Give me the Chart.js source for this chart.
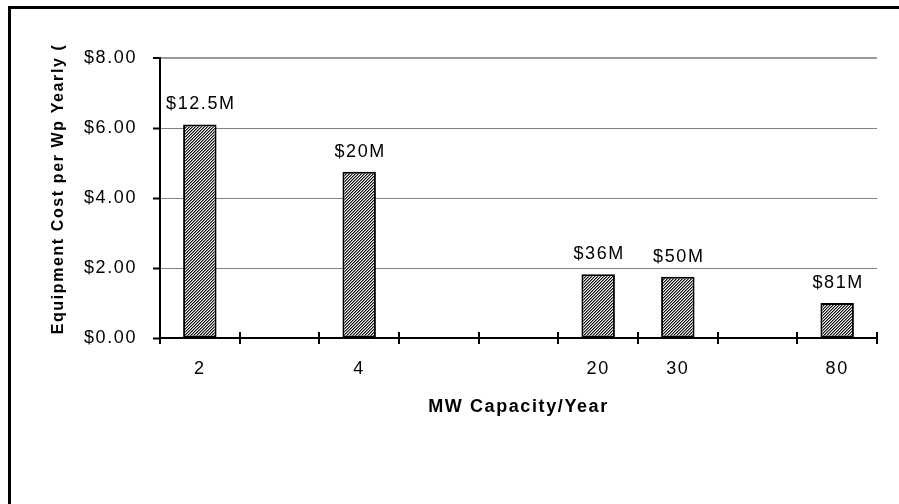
<!DOCTYPE html>
<html>
<head>
<meta charset="utf-8">
<script src="https://cdn.jsdelivr.net/npm/chart.js@4/dist/chart.umd.min.js"></script>
<style>
  html, body { margin: 0; padding: 0; background: #fff; overflow: hidden; }
  #wrap { position: relative; width: 899px; height: 504px; }
  #frame { position: absolute; left: 8px; top: 6px; width: 1000px; height: 600px;
           border-left: 3px solid #000; border-top: 3px solid #000; pointer-events: none; }
  canvas { position: absolute; left: 0; top: 0; }
</style>
</head>
<body>
<div id="wrap">
  <canvas id="cost-chart" width="899" height="504"></canvas>
  <div id="frame"></div>
</div>
<script>
// capacity categories (empty slots keep the spacing of the original)
var capacities = ['2', '', '4', '', '', '20', '30', '', '80'];
// equipment cost per Wp of yearly capacity
var costPerWp = [6.1, null, 4.75, null, null, 1.82, 1.75, null, 1.0];
// total equipment cost written over each bar
var costLabels = ['$12.5M', null, '$20M', null, null, '$36M', '$50M', null, '$81M'];
var yTicks = [0, 2, 4, 6, 8];

var FONT = '"Liberation Sans", Arial, sans-serif';

// fine hatched fill like the old spreadsheet pattern
function makeHatch() {
  var c = document.createElement('canvas');
  c.width = 3; c.height = 3;
  var g = c.getContext('2d');
  var img = g.createImageData(3, 3);
  var shades = [15, 130, 245];
  for (var y = 0; y < 3; y++) {
    for (var x = 0; x < 3; x++) {
      var i = (y * 3 + x) * 4;
      var v = shades[(x + y) % 3];
      img.data[i] = v; img.data[i + 1] = v; img.data[i + 2] = v; img.data[i + 3] = 255;
    }
  }
  g.putImageData(img, 0, 0);
  return document.getElementById('cost-chart').getContext('2d').createPattern(c, 'repeat');
}

var spacing = {
  id: 'spacing',
  beforeDraw: function(chart) {
    chart.ctx.letterSpacing = '1.6px';
  }
};

// labels over bars + the inner half of the x tick marks
var barLabels = {
  id: 'barLabels',
  afterDatasetsDraw: function(chart) {
    var ctx = chart.ctx;
    var meta = chart.getDatasetMeta(0);
    ctx.save();
    ctx.font = '18px ' + FONT;
    ctx.fillStyle = '#000';
    ctx.textAlign = 'center';
    ctx.textBaseline = 'middle';
    meta.data.forEach(function(bar, i) {
      if (costLabels[i] == null || costPerWp[i] == null) return;
      ctx.fillText(costLabels[i], bar.x + 1, bar.y - 20);
    });
    var xs = chart.scales.x;
    var step = (xs.right - xs.left) / capacities.length;
    ctx.strokeStyle = '#000';
    ctx.lineWidth = 2;
    for (var k = 0; k <= capacities.length; k++) {
      var px = Math.round(xs.left + k * step);
      ctx.beginPath();
      ctx.moveTo(px, xs.top - 6);
      ctx.lineTo(px, xs.top);
      ctx.stroke();
    }
    ctx.restore();
  }
};

var ctx = document.getElementById('cost-chart').getContext('2d');
var costChart = new Chart(ctx, {
  type: 'bar',
  data: {
    labels: capacities,
    datasets: [{
      data: costPerWp,
      backgroundColor: makeHatch(),
      borderColor: '#000',
      borderWidth: 2,
      borderSkipped: false,
      categoryPercentage: 1,
      barPercentage: 0.42
    }]
  },
  options: {
    responsive: false,
    animation: false,
    layout: { padding: { left: 49, right: 22, top: 58, bottom: 86 } },
    plugins: {
      legend: { display: false },
      tooltip: { enabled: false }
    },
    scales: {
      x: {
        afterFit: function(scale) { scale.height = 80; },
        border: { color: '#000', width: 2 },
        grid: {
          offset: true,
          drawOnChartArea: true,
          color: function(c) { return c.index === capacities.length ? '#8c8c8c' : 'rgba(0,0,0,0)'; },
          lineWidth: 2,
          tickColor: '#000',
          tickWidth: 2,
          tickLength: 6
        },
        ticks: {
          color: '#000',
          padding: 14,
          font: { family: FONT, size: 18 }
        },
        title: {
          display: true,
          text: 'MW Capacity/Year',
          color: '#000',
          padding: 0,
          font: { family: FONT, size: 18, weight: 'bold' }
        }
      },
      y: {
        min: 0,
        max: 8,
        afterFit: function(scale) { scale.width = 111; },
        afterBuildTicks: function(scale) {
          scale.ticks = yTicks.map(function(v) { return { value: v }; });
        },
        border: { color: '#000', width: 2 },
        grid: {
          color: function(c) { return c.tick && c.tick.value === 8 ? '#9a9a9a' : '#808080'; },
          lineWidth: function(c) { return c.tick && c.tick.value === 8 ? 2 : 1; },
          tickColor: '#000',
          tickWidth: 2,
          tickLength: 7
        },
        ticks: {
          color: '#000',
          padding: 16,
          font: { family: FONT, size: 18 },
          callback: function(value) {
            return '$' + Number(value).toFixed(2);
          }
        },
        title: {
          display: true,
          text: '   Equipment Cost per Wp Yearly (',
          color: '#000',
          padding: 0,
          font: { family: FONT, size: 16, weight: 'bold' }
        }
      }
    }
  },
  plugins: [spacing, barLabels]
});
</script>
</body>
</html>
